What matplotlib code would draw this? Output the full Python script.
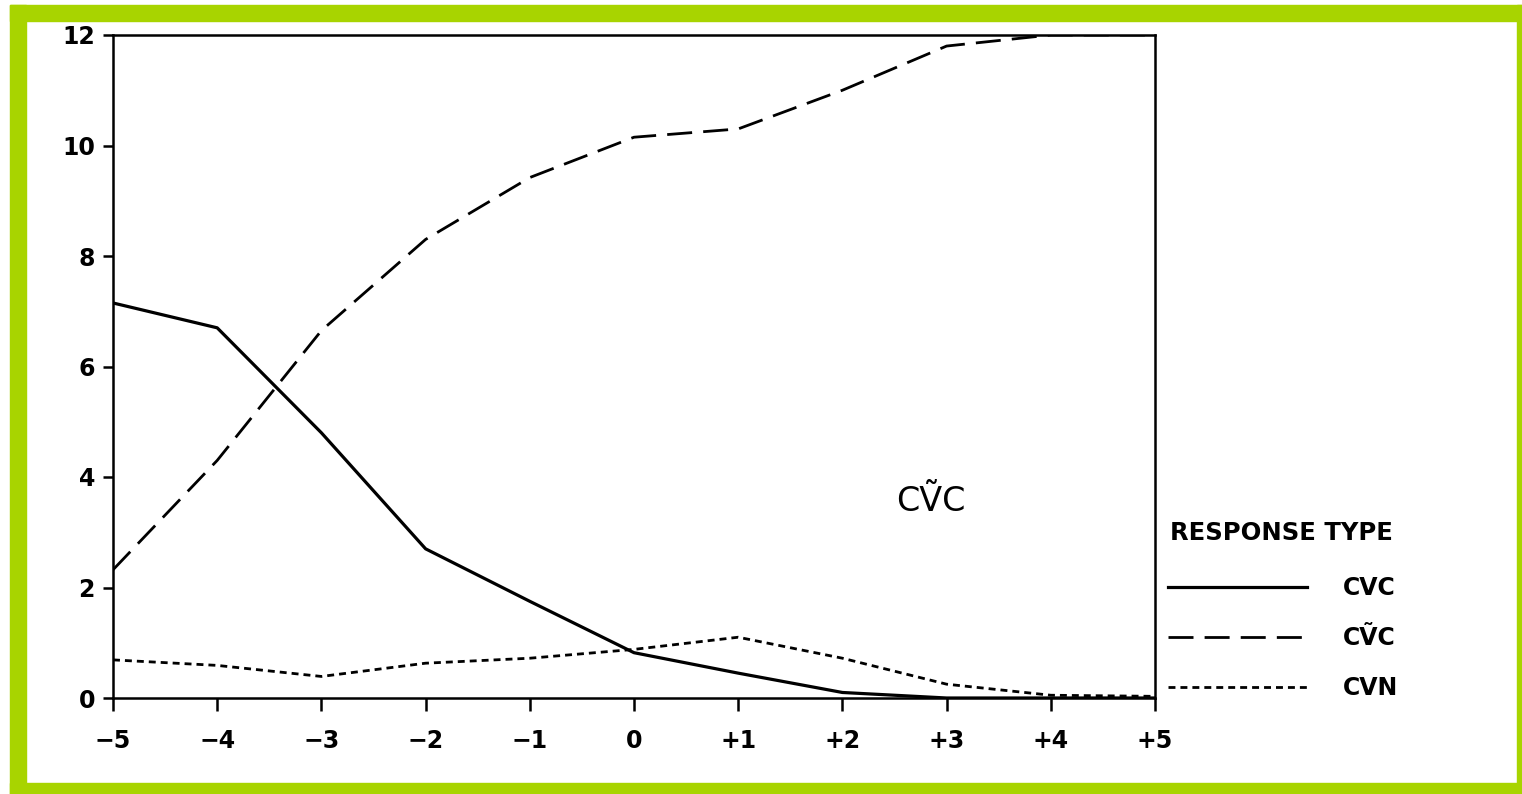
"""Response-type curves (CVC / CṼC / CVN) across the -5..+5 continuum."""
import matplotlib
matplotlib.use("Agg")
import matplotlib.pyplot as plt
from matplotlib.lines import Line2D
from matplotlib.patches import Rectangle

STEPS = [-5, -4, -3, -2, -1, 0, 1, 2, 3, 4, 5]
STEP_LABELS = ["\u22125", "\u22124", "\u22123", "\u22122", "\u22121", "0",
               "+1", "+2", "+3", "+4", "+5"]
CVC = [7.15, 6.7, 4.8, 2.7, 1.75, 0.82, 0.45, 0.1, 0.0, 0.0, 0.0]
CVTC = [2.32, 4.3, 6.65, 8.3, 9.42, 10.15, 10.3, 11.0, 11.8, 12.0, 12.0]
CVN = [0.69, 0.59, 0.39, 0.63, 0.72, 0.88, 1.1, 0.72, 0.25, 0.05, 0.03]
Y_TICKS = [0, 2, 4, 6, 8, 10, 12]

LEGEND_NAMES = ["CVC", "C\u1E7CC", "CVN"]
GREEN = "#a8d400"

plt.rcParams["font.family"] = ["DejaVu Sans"]

W, H = 1522, 794
fig = plt.figure(figsize=(W / 100, H / 100), dpi=100)

# green frame around the scan
for (x0, y0, w, h) in [(10, 5, 16, 789), (10, 5, 1512, 16),
                       (1517, 5, 5, 789), (10, 783, 1512, 11)]:
    fig.patches.append(Rectangle((x0 / W, 1 - (y0 + h) / H), w / W, h / H,
                                 transform=fig.transFigure, color=GREEN, zorder=0))

left, right, top, bottom = 113, 1155, 35, 698
ax = fig.add_axes([left / W, 1 - bottom / H, (right - left) / W, (bottom - top) / H])

ax.plot(STEPS, CVC, color="black", lw=2.3, solid_capstyle="round")
ax.plot(STEPS, CVTC, color="black", lw=2.0, dashes=(9, 4))
ax.plot(STEPS, CVN, color="black", lw=2.0, dashes=(2.5, 1.8))

ax.set_xlim(-5, 5)
ax.set_ylim(0, 12)
ax.set_xticks(STEPS)
ax.set_xticklabels(STEP_LABELS)
ax.set_yticks(Y_TICKS)
for s in ax.spines.values():
    s.set_linewidth(1.8)
ax.tick_params(axis="x", direction="out", length=9, width=1.8, pad=13,
               labelsize=17)
ax.tick_params(axis="y", direction="out", length=7, width=1.8, pad=6,
               labelsize=17)
for lbl in ax.get_xticklabels() + ax.get_yticklabels():
    lbl.set_fontweight("bold")

ax.text(2.85, 3.55, "C\u1E7CC", fontsize=24, ha="center", va="center")

# legend block to the right of the plot
fig.text(1170 / W, 1 - 533 / H, "RESPONSE TYPE", fontsize=17.5,
         fontweight="bold", ha="left", va="center")
handles = [
    Line2D([], [], color="black", lw=2.3),
    Line2D([], [], color="black", lw=2.0, dashes=(9, 4)),
    Line2D([], [], color="black", lw=2.0, dashes=(2.5, 1.8)),
]
leg = fig.legend(handles, LEGEND_NAMES, loc="upper left",
                 bbox_to_anchor=(1168 / W, 1 - 576 / H),
                 bbox_transform=fig.transFigure, frameon=False, fontsize=17,
                 handlelength=5.9, handletextpad=1.5, labelspacing=1.1,
                 borderaxespad=0, borderpad=0)
for t in leg.get_texts():
    t.set_fontweight("bold")

fig.savefig("out.png", dpi=100)
